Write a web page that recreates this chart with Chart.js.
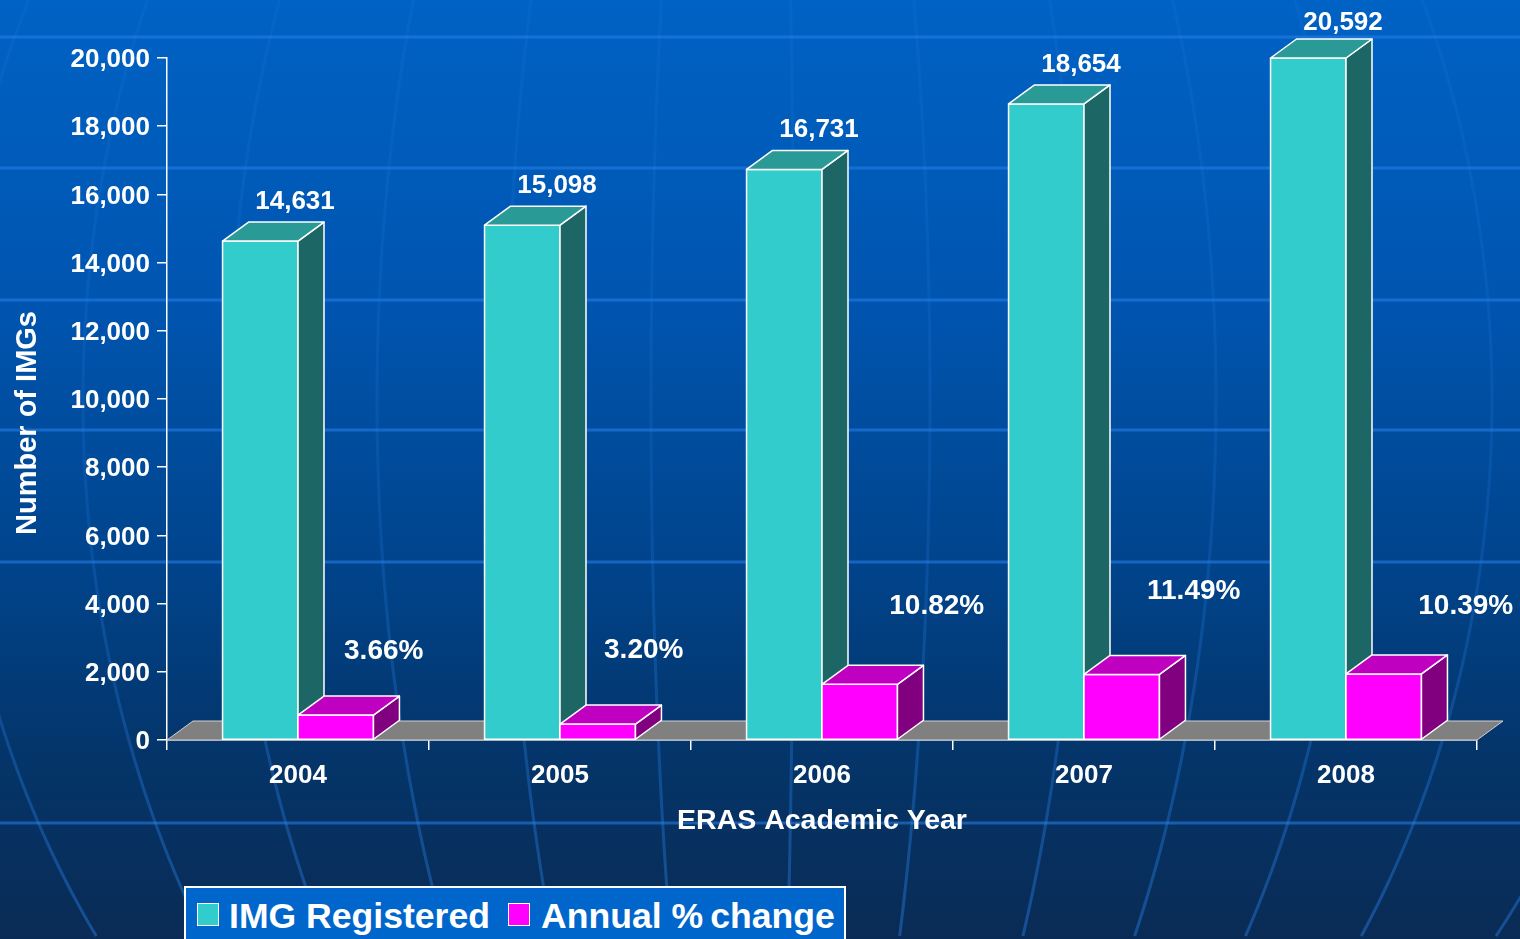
<!DOCTYPE html>
<html>
<head>
<meta charset="utf-8">
<title>IMG Registered by ERAS Academic Year</title>
<script src="https://cdn.jsdelivr.net/npm/chart.js@4.4.1/dist/chart.umd.min.js"></script>
<style>
    html, body { margin: 0; padding: 0; background: #0a2b55; overflow: hidden; }
    #wrap { position: relative; width: 1520px; height: 939px; }
    #legend {
        position: absolute; left: 184px; top: 886px; width: 662px; height: 62px;
        box-sizing: border-box; background: #0066cc; border: 2px solid #fff;
        font-family: "Liberation Sans", Arial, sans-serif; font-weight: bold;
        font-size: 35.6px; line-height: 40px; color: #fff;
    }
    #legend span { position: absolute; white-space: nowrap; }
    #legend .sw { width: 20px; height: 21px; border: 1.5px solid #fff; top: 15px; }
</style>
</head>
<body>
<div id="wrap">
    <canvas id="imgChart"></canvas>
    <div id="legend">
        <span class="sw" style="left:11px;background:#33cccc"></span>
        <span style="left:43px;top:8px">IMG Registered</span>
        <span class="sw" style="left:322px;background:#ff00ff"></span>
        <span style="left:355px;top:8px">Annual %&thinsp;change</span>
    </div>
</div>
<script>
// Chart data
const years = ['2004', '2005', '2006', '2007', '2008'];
const imgRegistered = [14631, 15098, 16731, 18654, 20592];
const annualIncrease = [730, 467, 1633, 1923, 1938];
const annualPct = ['3.66%', '3.20%', '10.82%', '11.49%', '10.39%'];
const yTicks = [0, 2000, 4000, 6000, 8000, 10000, 12000, 14000, 16000, 18000, 20000];

// label nudges for the % text (px from the top of the magenta bar)
const pctLabelShift = [[48, -65], [46, -75], [77, -79], [72, -84], [82, -69]];

// background globe
const latitudes = [37, 168, 300, 430, 562, 823];
const meridians = [-808, -677, -531, -383, -253, -109, 34, 170, 320, 456, 591, 732, 896];

const FONT = '"Liberation Sans", Arial, sans-serif';
const DX = 26, DY = 19;

const globeBackground = {
    id: 'globeBackground',
    beforeDraw(chart) {
        const { ctx, width, height } = chart;
        ctx.save();
        const g = ctx.createLinearGradient(0, 0, 0, height);
        g.addColorStop(0, '#0062c4');
        g.addColorStop(0.32, '#0055b0');
        g.addColorStop(0.6, '#00448c');
        g.addColorStop(0.8, '#04356a');
        g.addColorStop(1, '#0a2b55');
        ctx.fillStyle = g;
        ctx.fillRect(0, 0, width, height);

        ctx.lineWidth = 3;
        ctx.strokeStyle = 'rgba(40,130,235,0.55)';
        latitudes.forEach(y => {
            ctx.beginPath();
            ctx.moveTo(0, y);
            ctx.lineTo(width, y);
            ctx.stroke();
        });

        // meridians fade out towards the top
        const mg = ctx.createLinearGradient(0, 0, 0, height);
        mg.addColorStop(0, 'rgba(40,130,235,0.12)');
        mg.addColorStop(0.55, 'rgba(40,130,235,0.18)');
        mg.addColorStop(1, 'rgba(40,130,235,0.42)');
        ctx.strokeStyle = mg;
        const cx = 760, cy = 400, ry = 940;
        meridians.forEach(a => {
            ctx.beginPath();
            for (let y = 0; y <= height; y += 6) {
                const t = (y - cy) / ry;
                const x = cx + a * Math.sqrt(Math.max(0, 1 - t * t));
                if (y === 0) ctx.moveTo(x, y); else ctx.lineTo(x, y);
            }
            ctx.stroke();
        });
        ctx.restore();
    }
};

function drawBox(ctx, l, r, top, bot, front, topColor, side) {
    ctx.lineWidth = 1.5;
    ctx.strokeStyle = '#ffffff';
    ctx.lineJoin = 'round';

    ctx.fillStyle = front;
    ctx.beginPath();
    ctx.rect(l, top, r - l, bot - top);
    ctx.fill();
    ctx.stroke();

    ctx.fillStyle = side;
    ctx.beginPath();
    ctx.moveTo(r, top);
    ctx.lineTo(r + DX, top - DY);
    ctx.lineTo(r + DX, bot - DY);
    ctx.lineTo(r, bot);
    ctx.closePath();
    ctx.fill();
    ctx.stroke();

    ctx.fillStyle = topColor;
    ctx.beginPath();
    ctx.moveTo(l, top);
    ctx.lineTo(l + DX, top - DY);
    ctx.lineTo(r + DX, top - DY);
    ctx.lineTo(r, top);
    ctx.closePath();
    ctx.fill();
    ctx.stroke();
}

const bars3d = {
    id: 'bars3d',
    beforeDatasetsDraw(chart) {
        const { ctx, chartArea } = chart;
        const base = chartArea.bottom;
        ctx.save();

        // floor
        ctx.fillStyle = '#808080';
        ctx.strokeStyle = '#d0d0d0';
        ctx.lineWidth = 1;
        ctx.beginPath();
        ctx.moveTo(chartArea.left, base);
        ctx.lineTo(chartArea.left + DX, base - DY);
        ctx.lineTo(chartArea.right + DX, base - DY);
        ctx.lineTo(chartArea.right, base);
        ctx.closePath();
        ctx.fill();
        ctx.stroke();

        const faces = [
            ['#33cccc', '#2a9a96', '#1c6766'],
            ['#ff00ff', '#c000c0', '#800080']
        ];
        const metas = chart.data.datasets.map((d, i) => chart.getDatasetMeta(i));
        years.forEach((yr, i) => {
            metas.forEach((meta, di) => {
                const el = meta.data[i];
                const top = Math.max(el.y, chartArea.top);
                const l = el.x - el.width / 2, r = el.x + el.width / 2;
                drawBox(ctx, l, r, top, el.base, ...faces[di]);
            });
        });
        ctx.restore();
        return false;
    },
    afterDraw(chart) {
        const { ctx, chartArea } = chart;
        ctx.save();
        ctx.fillStyle = '#ffffff';
        ctx.textAlign = 'center';

        const cyan = chart.getDatasetMeta(0).data;
        ctx.font = 'bold 26px ' + FONT;
        ctx.textBaseline = 'alphabetic';
        cyan.forEach((el, i) => {
            const top = Math.max(el.y, chartArea.top);
            const gap = el.y < chartArea.top ? 9 : 13;
            ctx.fillText(imgRegistered[i].toLocaleString('en-US'), el.x + el.width / 2 - 3, top - DY - gap);
        });

        const mag = chart.getDatasetMeta(1).data;
        ctx.font = 'bold 28px ' + FONT;
        ctx.textBaseline = 'middle';
        mag.forEach((el, i) => {
            const [dx, dy] = pctLabelShift[i];
            ctx.fillText(annualPct[i], el.x + dx, el.y + dy + 1);
        });

        // y axis title
        ctx.translate(28, 423);
        ctx.rotate(-Math.PI / 2);
        ctx.font = 'bold 29px ' + FONT;
        ctx.fillText('Number of IMGs', 0, 0);
        ctx.restore();
    }
};

const ctx = document.getElementById('imgChart').getContext('2d');
new Chart(ctx, {
    type: 'bar',
    data: {
        labels: years,
        datasets: [{
            label: 'IMG Registered',
            data: imgRegistered,
            backgroundColor: '#33cccc'
        }, {
            label: 'Annual % change',
            data: annualIncrease,
            backgroundColor: '#ff00ff'
        }]
    },
    options: {
        responsive: true,
        maintainAspectRatio: false,
        animation: false,
        layout: { padding: { top: 58, right: 43, bottom: 0, left: 0 } },
        datasets: { bar: { categoryPercentage: 0.576, barPercentage: 1.0 } },
        plugins: {
            legend: { display: false },
            tooltip: { enabled: false }
        },
        scales: {
            x: {
                grid: {
                    offset: true, drawOnChartArea: false, drawTicks: true,
                    tickLength: 10, color: '#ffffff', lineWidth: 1.5
                },
                border: { display: true, color: '#ffffff', width: 1.5 },
                ticks: { color: '#ffffff', font: { family: FONT, size: 26, weight: 'bold' }, padding: 10 },
                title: {
                    display: true, text: 'ERAS Academic Year', color: '#ffffff',
                    font: { family: FONT, size: 28.5, weight: 'bold' },
                    padding: { top: 0, bottom: 101 }
                },
                afterFit(scale) { scale.height = 199; }
            },
            y: {
                min: 0,
                max: 20000,
                afterBuildTicks(scale) { scale.ticks = yTicks.map(v => ({ value: v })); },
                grid: {
                    drawOnChartArea: false, drawTicks: true, tickLength: 10,
                    color: '#ffffff', lineWidth: 1.5
                },
                border: { display: true, color: '#ffffff', width: 1.5 },
                ticks: {
                    color: '#ffffff', padding: 7, labelOffset: 2,
                    font: { family: FONT, size: 26, weight: 'bold' },
                    callback: v => v.toLocaleString('en-US')
                },
                afterFit(scale) { scale.width = 167; }
            }
        }
    },
    plugins: [globeBackground, bars3d]
});
</script>
</body>
</html>
